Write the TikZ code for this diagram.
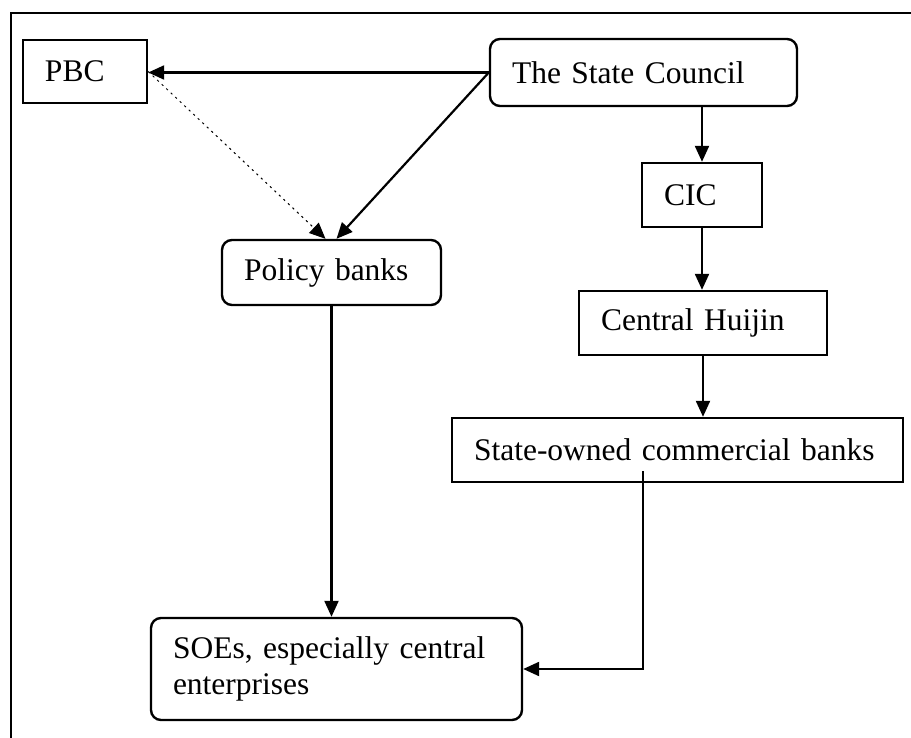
\documentclass[tikz,border=0pt]{standalone}
\usepackage{fontspec}
\setmainfont{Liberation Serif}
\usepackage{tikz}
\usetikzlibrary{shapes.geometric, arrows.meta, positioning}

\begin{document}
\begin{tikzpicture}[x=0.5pt, y=-0.5pt,
  every node/.style={font=\fontsize{15.75}{18}\selectfont, inner xsep=11pt, align=left},
  sqbox/.style={rectangle, draw, line width=1.2pt},
  rbox/.style={rectangle, rounded corners=5pt, draw, line width=1.2pt},
  arr/.style={-{Triangle[length=8pt,width=7pt]}, line width=1.1pt}]
  \useasboundingbox (0,0) rectangle (911,738);
  % open frame
  \draw[line width=1.2pt] (11,738) -- (11,13) -- (911,13);

  \node[sqbox, text width=40pt, minimum height=31.5pt] (PBC) at (85,71.5) {PBC};
  \node[rbox, text width=131.5pt, minimum height=33.5pt] (SC) at (643.5,72.5) {The State Council};
  \node[rbox, text width=87.5pt, minimum height=32.5pt] (Policy) at (331.5,272.5) {Policy banks};
  \node[sqbox, text width=38pt, minimum height=32pt] (CIC) at (702,195) {CIC};
  \node[sqbox, text width=102pt, minimum height=32pt] (Huijin) at (703,323) {Central Huijin};
  \node[sqbox, text width=203.5pt, minimum height=32pt] (SOCB) at (677.5,450) {State-owned commercial banks};
  \node[rbox, text width=163.5pt, minimum height=51pt] (SOE) at (336.5,669) {SOEs, especially central\\enterprises};

  \draw[arr] (SC.west) -- (SC.west -| PBC.east);
  \draw[arr] (SC.west) -- ([xshift=2.5pt]Policy.north);
  \draw[arr, dotted, line width=0.5pt] (PBC.east) -- ([xshift=-3pt]Policy.north);
  \draw[arr] (CIC.north |- SC.south) -- (CIC.north);
  \draw[arr] (CIC.south) -- (CIC.south |- Huijin.north);
  \draw[arr] (Huijin.south) -- (Huijin.south |- SOCB.north);
  \draw[arr] (Policy.south) -- (Policy.south |- SOE.north);
  \draw[arr] ([xshift=-17.25pt,yshift=6pt]SOCB.south) |- (SOE.east);
\end{tikzpicture}
\end{document}
